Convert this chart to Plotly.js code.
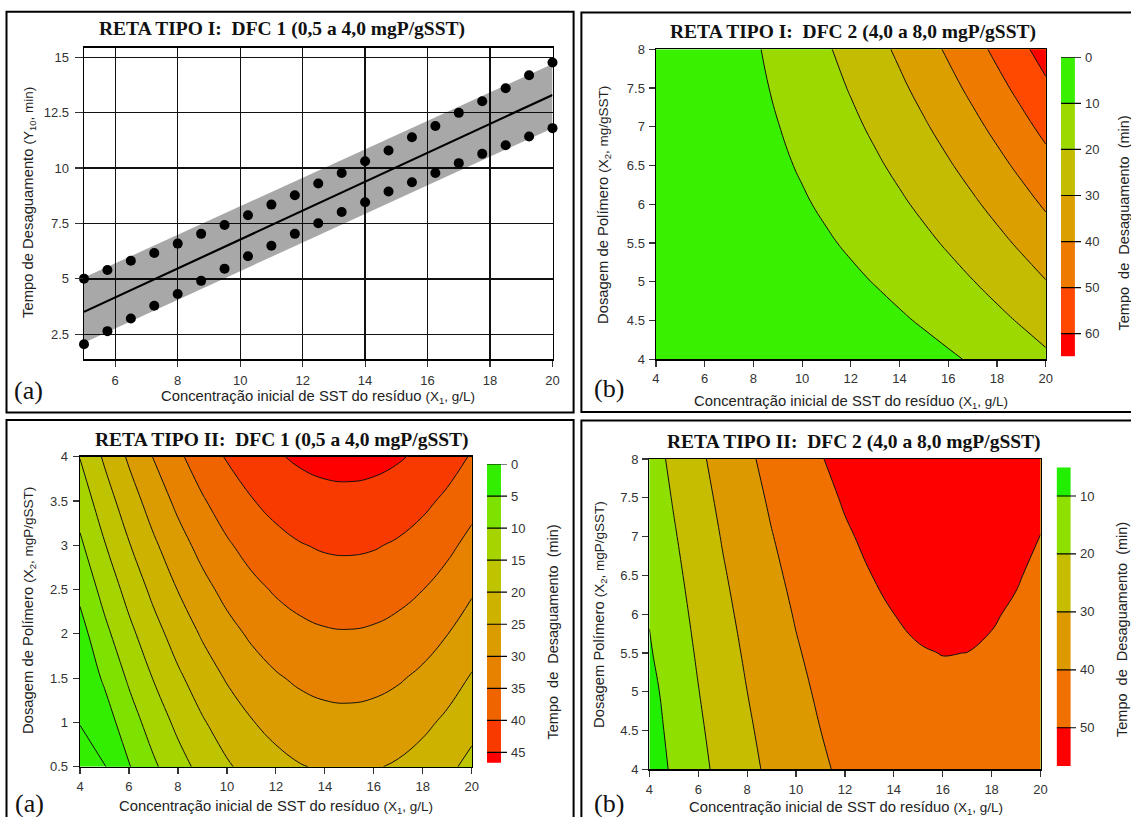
<!DOCTYPE html>
<html>
<head>
<meta charset="utf-8">
<script src="https://cdn.plot.ly/plotly-3.0.1.min.js"></script>
<style>
html,body{margin:0;padding:0;background:#fff;}
#chart{width:1131px;height:817px;}
</style>
</head>
<body>
<div id="chart"></div>
<script>
// ---------------- DATA ----------------
// Panel (a) top: linear fit with band
const p1X = [5, 5.75, 6.5, 7.25, 8, 8.75, 9.5, 10.25, 11, 11.75, 12.5, 13.25, 14, 14.75, 15.5, 16.25, 17, 17.75, 18.5, 19.25, 20];
const p1Upper = [5.01, 5.40, 5.82, 6.17, 6.59, 7.03, 7.43, 7.87, 8.35, 8.77, 9.30, 9.78, 10.31, 10.79, 11.39, 11.90, 12.49, 13.01, 13.60, 14.19, 14.76];
const p1Lower = [2.05, 2.64, 3.21, 3.79, 4.32, 4.91, 5.46, 6.02, 6.49, 7.03, 7.51, 8.02, 8.46, 8.94, 9.36, 9.78, 10.22, 10.64, 11.03, 11.42, 11.80];
const p1FitX = [5, 20];
const p1FitY = [3.51, 13.30];
const p1BandX = [5, 20];
const p1BandLow = [2.12, 11.80];
const p1BandHigh = [5.06, 14.70];

// Panel (b) top: RETA TIPO I DFC 2
const p2X = [4,5,6,7,8,9,10,11,12,13,14,15,16,17,18,19,20];
const p2Y = [4,4.5,5,5.5,6,6.5,7,7.5,8];
const p2Z = [
 [6.82,5.49,4.43,3.65,3.14,2.90,2.93,3.24,3.82,4.67,5.79,7.19,8.86,10.80,13.02,15.51,18.27],
 [5.90,4.98,4.34,3.97,3.88,4.05,4.50,5.22,6.22,7.48,9.02,10.83,12.92,15.27,17.91,20.81,23.99],
 [4.97,4.47,4.24,4.29,4.61,5.20,6.06,7.20,8.61,10.29,12.24,14.47,16.97,19.74,22.79,26.11,29.70],
 [4.05,3.96,4.15,4.61,5.35,6.35,7.63,9.18,11.01,13.10,15.47,18.11,21.03,24.21,27.68,31.41,35.42],
 [3.12,3.45,4.05,4.93,6.08,7.50,9.19,11.16,13.40,15.91,18.69,21.75,25.08,28.68,32.56,36.71,41.13],
 [2.20,2.94,3.96,5.25,6.82,8.65,10.76,13.14,15.80,18.72,21.92,25.39,29.14,33.15,37.45,42.01,46.85],
 [1.27,2.43,3.86,5.57,7.55,9.80,12.32,15.12,18.19,21.53,25.14,29.03,33.19,37.62,42.33,47.31,52.56],
 [0.35,1.92,3.77,5.89,8.29,10.95,13.89,17.10,20.59,24.34,28.37,32.67,37.25,42.09,47.22,52.61,58.28],
 [-0.58,1.41,3.67,6.21,9.02,12.10,15.45,19.08,22.98,27.15,31.59,36.31,41.30,46.56,52.10,57.91,63.99]
];
const p2Levels = [10, 60, 10];           // start, end, size
const p2Colors = ['#38f000','#9bd900','#c4bc00','#dba000','#ee7a00','#ff4800','#ff0000'];
const p2BarEdges = [0,10,20,30,40,50,60,65];
const p2BarTicks = [0,10,20,30,40,50,60];

// Panel (a) bottom: RETA TIPO II DFC 1
const p3X = [4,5,6,7,8,9,10,11,12,13,14,15,16,17,18,19,20];
const p3Y = [0.5,1,1.5,2,2.5,3,3.5,4];
const p3Z = [
 [-5.85,-0.30,4.71,9.19,13.13,16.53,19.40,21.73,23.52,24.78,25.51,25.69,25.35,24.46,23.04,21.08,18.59],
 [0.40,2.70,7.71,12.19,16.13,19.53,22.40,24.73,26.52,27.78,28.51,28.69,28.35,27.46,26.04,24.08,21.59],
 [1.20,5.70,10.71,15.19,19.13,22.53,25.40,27.73,29.52,30.78,31.51,31.69,31.35,30.46,29.04,27.08,24.59],
 [3.15,8.70,13.71,18.19,22.13,25.53,28.40,30.73,32.52,33.78,34.51,34.69,34.35,33.46,32.04,30.08,27.59],
 [6.15,11.70,16.71,21.19,25.13,28.53,31.40,33.73,35.52,36.78,37.51,37.69,37.35,36.46,35.04,33.08,30.59],
 [9.15,14.70,19.71,24.19,28.13,31.53,34.40,36.73,38.52,39.78,40.51,40.69,40.35,39.46,38.04,36.08,33.59],
 [12.15,17.70,22.71,27.19,31.13,34.53,37.40,39.73,41.52,42.78,43.51,43.69,43.35,42.46,41.04,39.08,36.59],
 [15.15,20.70,25.71,30.19,34.13,37.53,40.40,42.73,44.52,45.78,46.51,46.69,46.35,45.46,44.04,42.08,39.59]
];
const p3Levels = [0, 45, 5];
const p3Colors = ['#33ee00','#33ee00','#7de200','#a6d400','#bfc400','#cdb200','#da9c00','#e78200','#f06400','#f93a00','#ff0000'];
const p3BarEdges = [0,5,10,15,20,25,30,35,40,45,46.6];
const p3BarTicks = [0,5,10,15,20,25,30,35,40,45];

// Panel (b) bottom: RETA TIPO II DFC 2
const p4X = [4,5,6,7,8,9,10,11,12,13,14,15,16,17,18,19,20];
const p4Y = [4,4.5,5,5.5,6,6.5,7,7.5,8];
const p4Z = [
 [5.05,11.50,17.41,22.78,27.60,31.89,35.63,38.82,41.48,43.59,45.16,46.19,46.67,46.62,46.02,44.88,43.19],
 [6.18,12.64,18.56,23.94,28.76,33.05,36.79,39.97,42.62,44.72,46.28,47.29,47.75,47.68,47.06,45.89,44.17],
 [7.37,13.84,19.77,25.15,29.98,34.26,38.00,41.18,43.82,45.91,47.46,48.45,48.90,48.80,48.15,46.96,45.21],
 [9.20,15.09,21.03,26.42,31.25,35.54,39.27,42.45,45.08,47.16,48.69,49.67,50.09,49.98,49.30,48.08,46.30],
 [10.50,16.40,22.35,27.74,32.58,36.86,40.59,43.77,46.39,48.46,49.98,50.94,51.35,51.21,50.51,49.26,47.45],
 [11.80,17.77,23.73,29.13,33.97,38.25,41.98,45.15,47.77,49.83,51.33,52.28,52.66,52.50,51.77,50.50,48.66],
 [13.10,19.20,25.16,30.57,35.41,39.69,43.42,46.59,49.19,51.24,52.73,53.66,54.03,53.85,53.10,51.79,49.93],
 [14.40,20.68,26.65,32.07,36.91,41.19,44.92,48.08,50.68,52.72,54.19,55.11,55.46,55.25,54.47,53.14,51.25],
 [15.68,22.22,28.20,33.62,38.47,42.75,46.47,49.63,52.22,54.25,55.71,56.61,56.94,56.71,55.91,54.55,52.63]
];
const p4Levels = [10, 50, 10];
const p4Colors = ['#22ee00','#8fe000','#c6bd00','#dd9900','#f07000','#ff0000'];
const p4BarEdges = [5.05,10,20,30,40,50,56.6];
const p4BarTicks = [10,20,30,40,50];

// Text
const titles = [
  'RETA TIPO I:  DFC 1 (0,5 a 4,0 mgP/gSST)',
  'RETA TIPO I:  DFC 2 (4,0 a 8,0 mgP/gSST)',
  'RETA TIPO II:  DFC 1 (0,5 a 4,0 mgP/gSST)',
  'RETA TIPO II:  DFC 2 (4,0 a 8,0 mgP/gSST)'
];
const panelTags = ['(a)', '(b)', '(a)', '(b)'];
const xTitleMain = 'Concentração inicial de SST do resíduo';
const xTitleSub = '(X<sub>1</sub>, g/L)';
const yTitles = [
  ['Tempo de Desaguamento', '(Y<sub>10</sub>, min)'],
  ['Dosagem de Polímero', '(X<sub>2</sub>, mg/gSST)'],
  ['Dosagem de Polímero', '(X<sub>2</sub>, mgP/gSST)'],
  ['Dosagem Polímero', '(X<sub>2</sub>, mgP/gSST)']
];
const cbTitle = 'Tempo\u00a0 de\u00a0 Desaguamento\u00a0 (min)';

// ---------------- LAYOUT HELPERS ----------------
const W = 1131, H = 817;
const SANS = 'Liberation Sans, Arial, Helvetica, sans-serif';
const SERIF = 'Liberation Serif, Times New Roman, serif';
const fx = px => px / W;
const fy = py => 1 - py / H;

function scale(colors) {
  const n = colors.length;
  return colors.map((c, i) => [n === 1 ? 0 : i / (n - 1), c]);
}

function plotAxis(extra) {
  return Object.assign({
    showline: true, linecolor: '#000', linewidth: 1.4, mirror: true,
    ticks: 'outside', ticklen: 6, tickwidth: 1.2, tickcolor: '#333',
    tickfont: {family: SANS, size: 13, color: '#333'},
    showgrid: false, zeroline: false, fixedrange: true
  }, extra);
}

const layout = {
  width: W, height: H,
  margin: {l: 0, r: 0, t: 0, b: 0},
  paper_bgcolor: '#fff', plot_bgcolor: '#fff',
  showlegend: false,
  // Panel 1
  xaxis: plotAxis({domain: [fx(84), fx(552.5)], range: [5, 20], tick0: 0, dtick: 2, anchor: 'y',
    showgrid: true, gridcolor: '#111', gridwidth: 1.3, ticklabelstandoff: 3}),
  yaxis: plotAxis({domain: [fy(359.3), fy(47.7)], range: [1.37, 15.43], tick0: 0, dtick: 2.5, anchor: 'x',
    showgrid: true, gridcolor: '#111', gridwidth: 1.3, ticklen: 8, ticklabelstandoff: 3}),
  // Panel 2
  xaxis2: plotAxis({domain: [fx(655.9), fx(1045.8)], range: [4, 20], tick0: 0, dtick: 2, anchor: 'y2', ticklabelstandoff: 1}),
  yaxis2: plotAxis({domain: [fy(359.3), fy(49.3)], range: [4, 8], tick0: 0, dtick: 0.5, anchor: 'x2', ticklabelstandoff: 1}),
  // Panel 3
  xaxis4: plotAxis({domain: [fx(80), fx(471.8)], range: [4, 20], tick0: 0, dtick: 2, anchor: 'y4', ticklabelstandoff: 1}),
  yaxis4: plotAxis({domain: [fy(766.7), fy(456.7)], range: [0.5, 4], tick0: 0, dtick: 0.5, anchor: 'x4', ticklabelstandoff: 2}),
  // Panel 4
  xaxis6: plotAxis({domain: [fx(649.4), fx(1040.5)], range: [4, 20], tick0: 0, dtick: 2, anchor: 'y6', ticklabelstandoff: 2}),
  yaxis6: plotAxis({domain: [fy(769.3), fy(459)], range: [4, 8], tick0: 0, dtick: 0.5, anchor: 'x6', ticklabelstandoff: 1}),
  shapes: [],
  annotations: []
};

// Colour key axes (drawn as heatmap strips)
const traces = [];
function addKey(xName, yName, barL, barR, extR, topPx, botPx, edges, ticks, colors) {
  const ext = (extR - barL) / (barR - barL);
  layout['xaxis' + xName] = {domain: [fx(barL), fx(extR)], range: [0, ext], visible: false, fixedrange: true, anchor: 'y' + yName};
  layout['yaxis' + yName] = {domain: [fy(botPx), fy(topPx)], range: [edges[edges.length - 1], edges[0]],
    anchor: 'x' + xName, side: 'right', showline: false, ticks: '', tickvals: ticks,
    showgrid: false, zeroline: false, fixedrange: true, ticklabelstandoff: 3,
    tickfont: {family: SANS, size: 13, color: '#333'}};
  traces.push({
    type: 'heatmap', x: [0, 1], y: edges,
    z: edges.slice(1).map((_, i) => [i]),
    zmin: 0, zmax: colors.length - 1, colorscale: scale(colors), showscale: false,
    xaxis: 'x' + xName, yaxis: 'y' + yName, hoverinfo: 'skip'
  });
  const lx = [], ly = [];
  ticks.forEach(t => { lx.push(0, ext, null); ly.push(t, t, null); });
  traces.push({type: 'scatter', mode: 'lines', x: lx, y: ly, line: {color: '#000', width: 1.2},
    xaxis: 'x' + xName, yaxis: 'y' + yName, hoverinfo: 'skip'});
}

// ---------------- TRACES ----------------
// Panel 1
traces.push({type: 'scatter', mode: 'lines', x: p1BandX, y: p1BandLow, line: {width: 0, color: 'rgba(0,0,0,0)'},
  xaxis: 'x', yaxis: 'y', hoverinfo: 'skip'});
traces.push({type: 'scatter', mode: 'lines', x: p1BandX, y: p1BandHigh, fill: 'tonexty',
  fillcolor: 'rgba(0,0,0,0.34)', line: {width: 0, color: 'rgba(0,0,0,0)'}, xaxis: 'x', yaxis: 'y', hoverinfo: 'skip'});
traces.push({type: 'scatter', mode: 'lines', x: p1FitX, y: p1FitY, line: {color: '#000', width: 2.2},
  xaxis: 'x', yaxis: 'y', hoverinfo: 'skip'});
traces.push({type: 'scatter', mode: 'markers', x: p1X, y: p1Upper, marker: {color: '#000', size: 10},
  cliponaxis: false, xaxis: 'x', yaxis: 'y', hoverinfo: 'skip'});
traces.push({type: 'scatter', mode: 'markers', x: p1X, y: p1Lower, marker: {color: '#000', size: 10},
  cliponaxis: false, xaxis: 'x', yaxis: 'y', hoverinfo: 'skip'});

function contourTrace(x, y, z, lv, colors, xa, ya) {
  return {type: 'contour', x: x, y: y, z: z, xaxis: xa, yaxis: ya,
    autocontour: false,
    contours: {start: lv[0], end: lv[1], size: lv[2], coloring: 'fill', showlines: true},
    line: {color: '#111', width: 1, smoothing: 1.3},
    colorscale: scale(colors), showscale: false, hoverinfo: 'skip'};
}
traces.push(contourTrace(p2X, p2Y, p2Z, p2Levels, p2Colors, 'x2', 'y2'));
traces.push(contourTrace(p3X, p3Y, p3Z, p3Levels, p3Colors, 'x4', 'y4'));
traces.push(contourTrace(p4X, p4Y, p4Z, p4Levels, p4Colors, 'x6', 'y6'));

addKey('3', '3', 1060.9, 1074.5, 1081.0, 57.3, 356.7, p2BarEdges, p2BarTicks, p2Colors);
addKey('5', '5', 487, 501, 507, 464, 762.7, p3BarEdges, p3BarTicks, p3Colors.slice(1));
addKey('7', '7', 1056.6, 1070.2, 1076, 467.3, 766, p4BarEdges, p4BarTicks, p4Colors);

// ---------------- ANNOTATIONS / FRAMES ----------------
function ann(text, px, py, font, extra) {
  layout.annotations.push(Object.assign({text: text, xref: 'paper', yref: 'paper', x: fx(px), y: fy(py),
    xanchor: 'center', yanchor: 'middle', showarrow: false, font: font}, extra || {}));
}
const titleFont = {family: SERIF, size: 19.5, color: '#111'};
const axFont = {family: SANS, size: 14.8, color: '#222'};
const tagFont = {family: SERIF, size: 26, color: '#111'};
const sub = s => '<span style="font-size:13.5px">' + s + '</span>';

const titlePos = [[282, 29], [852.6, 32.5], [282, 440], [854, 441.5]];
const tagPos = [[28, 391], [609, 388], [29, 803], [609, 803]];
const xTitlePos = [[318, 397], [851, 402], [276, 807], [846, 808]];
const yTitlePos = [[29, 203], [604, 205], [29, 611], [600, 615]];
const cbTitlePos = [[1123.5, 223], [552.5, 632], [1122, 630]];

titles.forEach((t, i) => ann('<b>' + t + '</b>', titlePos[i][0], titlePos[i][1], titleFont));
panelTags.forEach((t, i) => ann(t, tagPos[i][0], tagPos[i][1], tagFont));
xTitlePos.forEach(p => ann(xTitleMain + ' ' + sub(xTitleSub), p[0], p[1], axFont));
yTitles.forEach((t, i) => ann(t[0] + ' ' + sub(t[1]), yTitlePos[i][0], yTitlePos[i][1], axFont, {textangle: -90}));
cbTitlePos.forEach(p => ann(cbTitle, p[0], p[1], {family: SANS, size: 14.5, color: '#222'}, {textangle: -90}));

const frames = [[6.5, 11.7, 573.6, 412.5], [581.4, 12.5, 1140, 412], [6.5, 420, 573.6, 830], [581.4, 420.5, 1140, 830]];
frames.forEach(f => layout.shapes.push({type: 'rect', xref: 'paper', yref: 'paper',
  x0: fx(f[0]), y0: fy(f[1]), x1: fx(f[2]), y1: fy(f[3]), line: {color: '#000', width: 2}, fillcolor: 'rgba(0,0,0,0)'}));

Plotly.newPlot('chart', traces, layout, {staticPlot: true, displayModeBar: false});
</script>
</body>
</html>
